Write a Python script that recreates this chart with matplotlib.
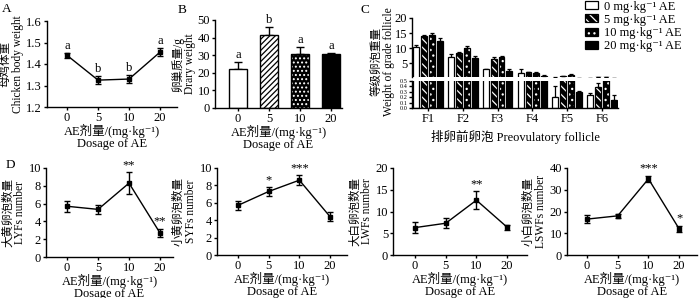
import numpy as np
import matplotlib
matplotlib.use("Agg")
import matplotlib.pyplot as plt
from matplotlib.patches import Patch

plt.rcParams["font.family"] = ["Liberation Serif", "Noto Sans CJK SC", "DejaVu Serif"]
plt.rcParams["font.size"] = 9
plt.rcParams["axes.linewidth"] = 1.0
plt.rcParams["hatch.linewidth"] = 0.9

# ── data ──────────────────────────────────────────────────────────────────────
doses = ["0", "5", "10", "20"]
x_label = "AE剂量/(mg·kg⁻¹)\nDosage of AE"

body_w = [1.44, 1.325, 1.33, 1.455]
body_err = [0.01, 0.02, 0.02, 0.02]
body_letters = ["a", "b", "b", "a"]

ovary_w = [22.0, 41.5, 30.5, 30.5]
ovary_err = [4.0, 4.5, 4.0, 1.0]
ovary_letters = ["a", "b", "a", "a"]

follicles = ["F1", "F2", "F3", "F4", "F5", "F6"]
foll_w = {
    "0":  [10.5, 7.0, 3.0, 1.8, 0.20, 0.25],
    "5":  [14.2, 8.5, 6.5, 2.0, 0.70, 0.38],
    "10": [14.3, 10.2, 7.2, 1.8, 1.20, 0.55],
    "20": [12.5, 6.8, 2.5, 0.8, 0.29, 0.15],
}
foll_err = {
    "0":  [0.5, 1.2, 0.3, 1.2, 0.21, 0.02],
    "5":  [0.2, 0.3, 0.6, 0.3, 0.15, 0.08],
    "10": [0.6, 0.4, 0.4, 0.2, 0.30, 0.10],
    "20": [1.0, 0.6, 0.5, 0.2, 0.02, 0.10],
}
legend_labels = ["0 mg·kg⁻¹ AE", "5 mg·kg⁻¹ AE", "10 mg·kg⁻¹ AE", "20 mg·kg⁻¹ AE"]

lyf = [5.7, 5.35, 8.3, 2.7]
lyf_err = [0.6, 0.5, 1.2, 0.5]
lyf_stars = ["", "", "**", "**"]

syf = [5.7, 7.3, 8.6, 4.4]
syf_err = [0.5, 0.5, 0.6, 0.5]
syf_stars = ["", "*", "***", ""]

lwf = [6.3, 7.3, 12.6, 6.4]
lwf_err = [1.2, 1.1, 2.0, 0.6]
lwf_stars = ["", "", "**", ""]

lswf = [16.5, 18.0, 35.0, 12.0]
lswf_err = [2.0, 0.8, 1.5, 1.5]
lswf_stars = ["", "", "***", "*"]

W, H = 700, 298
fig = plt.figure(figsize=(W / 100, H / 100), dpi=100)
YL = 8.3  # y-label size


def px_axes(x0, x1, y0, y1):
    """axes from pixel box (top-left origin)"""
    return fig.add_axes([x0 / W, (H - y1) / H, (x1 - x0) / W, (y1 - y0) / H])


def style(ax):
    ax.spines["top"].set_visible(False)
    ax.spines["right"].set_visible(False)
    ax.tick_params(direction="out", length=2.5, width=1, pad=1)


def line_panel(ax, vals, errs, ylim, yticks, ylabel, marks, xlim):
    x = np.arange(len(vals))
    ax.errorbar(x, vals, yerr=errs, color="black", lw=1.0, marker="s",
                ms=3.5, capsize=2.5, elinewidth=1.0, capthick=1.0)
    ax.set_xticks(x)
    ax.set_xticklabels(doses)
    ax.set_xlim(*xlim)
    ax.set_ylim(*ylim)
    ax.set_yticks(yticks)
    ax.set_ylabel(ylabel, linespacing=1.0, labelpad=2, fontsize=YL)
    ax.set_xlabel(x_label, linespacing=0.95, labelpad=0)
    span = ylim[1] - ylim[0]
    for xi, v, e, m in zip(x, vals, errs, marks):
        if m:
            ax.text(xi, v + e + span * 0.01, m, ha="center", va="bottom", fontsize=9)
    style(ax)


# ── A ─────────────────────────────────────────────────────────────────────────
axA = px_axes(47, 177, 21, 107)
line_panel(axA, body_w, body_err, (1.2, 1.6), [1.2, 1.3, 1.4, 1.5, 1.6],
           "母鸡体重\nChicken body weight", body_letters, (-0.65, 3.55))

# ── B ─────────────────────────────────────────────────────────────────────────
axB = px_axes(215, 342, 20, 108)
xb = np.arange(4)
b_face = ["white", "white", "black", "black"]
b_edge = ["black", "black", "white", "black"]
b_hatch = [None, "//////", "....", None]
for i in range(4):
    axB.bar(xb[i], ovary_w[i], width=0.6, color=b_face[i], edgecolor=b_edge[i],
            hatch=b_hatch[i], lw=0, zorder=2)
    axB.bar(xb[i], ovary_w[i], width=0.6, fill=False, edgecolor="black", lw=1.0, zorder=3)
axB.errorbar(xb, ovary_w, yerr=[np.zeros(4), ovary_err], fmt="none", ecolor="black",
             elinewidth=1.0, capsize=3, capthick=1.0, zorder=1)
for xi, v, e, m in zip(xb, ovary_w, ovary_err, ovary_letters):
    axB.text(xi, v + e + 0.5, m, ha="center", va="bottom")
axB.set_xticks(xb)
axB.set_xticklabels(doses)
axB.set_xlim(-0.74, 3.35)
axB.set_ylim(0, 50)
axB.set_yticks([0, 10, 20, 30, 40, 50])
axB.set_ylabel("卵巢质量/g\nDrary weight", linespacing=1.0, labelpad=1, fontsize=YL)
axB.set_xlabel(x_label, linespacing=0.95, labelpad=0)
style(axB)

# ── C (broken axis) ───────────────────────────────────────────────────────────
axCt = px_axes(412, 618, 18, 77)
axCb = px_axes(412, 618, 81, 108)
xc = np.arange(len(follicles))
bw, step = 0.17, 0.225
c_face = ["white", "black", "black", "black"]
c_edge = ["black", "white", "white", "black"]
c_hatch = [None, "\\\\\\\\", "...", None]
keys = ["0", "5", "10", "20"]
for ax in (axCt, axCb):
    for j, k in enumerate(keys):
        pos = xc + (j - 1.5) * step
        ax.bar(pos, foll_w[k], width=bw, color=c_face[j], edgecolor=c_edge[j],
               hatch=c_hatch[j], lw=0, zorder=2)
        ax.bar(pos, foll_w[k], width=bw, fill=False, edgecolor="black", lw=0.9, zorder=3)
        ax.errorbar(pos, foll_w[k], yerr=[np.zeros(len(xc)), foll_err[k]], fmt="none",
                    ecolor="black", elinewidth=0.9, capsize=1.5, capthick=0.9, zorder=1)
    ax.set_xlim(-0.46, 5.46)
    style(ax)

axCt.set_ylim(0.5, 20)
axCt.set_yticks([5, 10, 15, 20])
axCt.spines["bottom"].set_visible(False)
axCt.tick_params(axis="x", bottom=False, labelbottom=False)

axCb.set_ylim(0, 0.5)
axCb.set_yticks([0.0, 0.1, 0.2, 0.3, 0.4, 0.5])
axCb.tick_params(axis="y", labelsize=4.5, length=2, pad=1)
axCb.set_xticks(xc)
axCb.set_xticklabels(follicles)
axCb.set_xlabel("排卵前卵泡 Preovulatory follicle", labelpad=4)

fig.text(383 / W, 1 - 62 / H, "等级卵泡重量\nWeight of grade follicle", rotation=90,
         ha="center", va="center", linespacing=1.0, fontsize=YL)

handles = [Patch(facecolor=c_face[j], edgecolor=c_edge[j], hatch=c_hatch[j], lw=0)
           for j in range(4)]
handles = [(h, Patch(fill=False, edgecolor="black", lw=0.9)) for h in handles]
fig.legend(handles, legend_labels, loc="upper left", bbox_to_anchor=(580 / W, 1.015),
           frameon=False, handlelength=1.0, handleheight=0.6, handletextpad=0.5,
           labelspacing=0.1, borderaxespad=0, fontsize=9)

# ── D ─────────────────────────────────────────────────────────────────────────
axD1 = px_axes(46, 173, 168, 257)
line_panel(axD1, lyf, lyf_err, (0, 10), [0, 2, 4, 6, 8, 10],
           "大黄卵泡数量\nLYFs number", lyf_stars, (-0.68, 3.42))
axD2 = px_axes(217, 347, 168, 255)
line_panel(axD2, syf, syf_err, (0, 10), [0, 2, 4, 6, 8, 10],
           "小黄卵泡数量\nSYFs number", syf_stars, (-0.68, 3.55))
axD3 = px_axes(393, 527, 168, 255)
line_panel(axD3, lwf, lwf_err, (0, 20), [0, 5, 10, 15, 20],
           "大白卵泡数量\nLWFs number", lwf_stars, (-0.72, 3.65))
axD4 = px_axes(567, 697, 168, 255)
line_panel(axD4, lswf, lswf_err, (0, 40), [0, 10, 20, 30, 40],
           "小白卵泡数量\nLSWFs number", lswf_stars, (-0.65, 3.58))

# panel letters
for lbl, (px, py) in {"A": (7, 9), "B": (182, 10), "C": (365, 10), "D": (10, 165)}.items():
    fig.text(px / W, 1 - py / H, lbl, ha="center", va="center", fontsize=9.5)

fig.savefig("out.png", dpi=100)
